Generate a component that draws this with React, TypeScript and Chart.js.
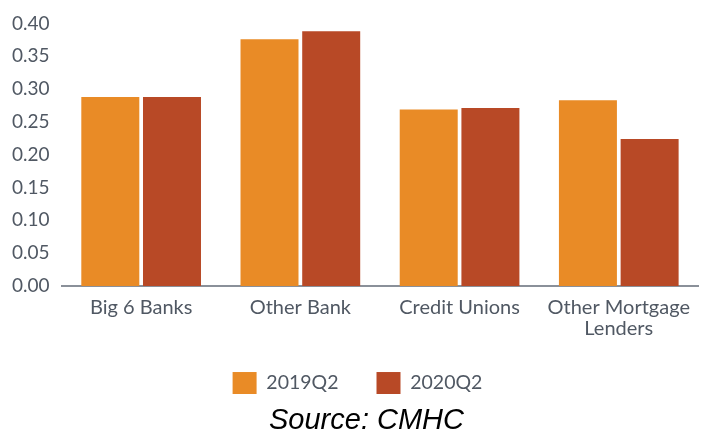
import React, { useEffect, useRef } from "react";
import { Chart, registerables } from "chart.js";

Chart.register(...registerables);

const categories: (string | string[])[] = [
  "Big 6 Banks",
  "Other Bank",
  "Credit Unions",
  ["Other Mortgage", "Lenders"],
];
const series2019Q2 = [0.288, 0.376, 0.269, 0.283];
const series2020Q2 = [0.288, 0.388, 0.271, 0.224];
const seriesLabels = ["2019Q2", "2020Q2"];
const yTickMin = 0;
const yTickMax = 0.4;
const yTickStep = 0.05;
const sourceText = "Source: CMHC";

const ORANGE = "#E98B26";
const RUST = "#B84926";
const TEXT = "#505863";

const shiftBoxes = {
  id: "shiftBoxes",
  afterLayout(chart: any) {
    const lg = chart.legend;
    if (lg) {
      lg.left += 7;
      lg.right += 7;
      lg.top -= 16;
      if (lg.adjustHitBoxes) lg.adjustHitBoxes();
    }
    const tt = chart.titleBlock;
    if (tt) {
      tt.left += 16;
      tt.right += 16;
      tt.top += 3;
      tt.bottom += 3;
    }
  },
};

export default function App() {
  const canvasRef = useRef<HTMLCanvasElement | null>(null);

  useEffect(() => {
    document.body.style.margin = "0";
    const ctx = canvasRef.current;
    if (!ctx) return;
    const chart = new Chart(ctx, {
      type: "bar",
      data: {
        labels: categories,
        datasets: [
          {
            label: seriesLabels[0],
            data: series2019Q2,
            backgroundColor: ORANGE,
            borderWidth: 0,
          },
          {
            label: seriesLabels[1],
            data: series2020Q2,
            backgroundColor: RUST,
            borderWidth: 0,
          },
        ],
      },
      plugins: [shiftBoxes],
      options: {
        animation: false,
        responsive: false,
        maintainAspectRatio: false,
        layout: { padding: { top: 10, left: 0, right: 0, bottom: 0 } },
        datasets: {
          bar: { categoryPercentage: 0.775, barPercentage: 0.94 },
        },
        scales: {
          x: {
            grid: { display: false, drawTicks: false },
            border: { display: true, color: "#8a9099", width: 2 },
            ticks: {
              color: TEXT,
              font: { family: "Lato", size: 20, lineHeight: 1.05 },
              maxRotation: 0,
              autoSkip: false,
              padding: 11,
            },
          },
          y: {
            min: yTickMin,
            max: yTickMax,
            grid: { display: false, drawTicks: false },
            border: { display: false },
            ticks: {
              stepSize: yTickStep,
              color: TEXT,
              font: { family: "Lato", size: 19 },
              padding: 12,
              callback: (v: any) => Number(v).toFixed(2),
            },
          },
        },
        plugins: {
          legend: {
            position: "bottom",
            maxHeight: 54,
            labels: {
              boxWidth: 24,
              boxHeight: 22,
              padding: 38,
              color: TEXT,
              font: { family: "Lato", size: 19.5 },
            },
          },
          title: {
            display: true,
            position: "bottom",
            text: sourceText,
            color: "#000000",
            font: {
              family: "Liberation Sans",
              size: 29,
              style: "italic",
              weight: "normal",
              lineHeight: 0.93,
            },
            padding: { top: 0, bottom: 0 },
          },
          tooltip: { enabled: false },
        },
      },
    });
    return () => chart.destroy();
  }, []);

  return (
    <div style={{ width: 701, height: 431, overflow: "hidden", background: "#fff" }}>
      <canvas ref={canvasRef} width={701} height={431} style={{ display: "block" }} />
    </div>
  );
}
